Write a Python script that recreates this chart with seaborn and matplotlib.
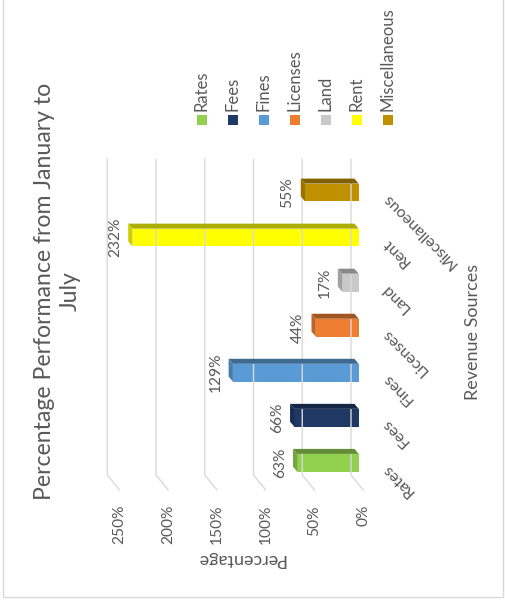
import numpy as np
import pandas as pd
import matplotlib
matplotlib.use("Agg")
import matplotlib.pyplot as plt
import seaborn as sns
from matplotlib.patches import Polygon, Rectangle
from matplotlib.lines import Line2D
from matplotlib.transforms import IdentityTransform
import matplotlib.colors as mcolors

# ---------------- data ----------------
categories = ["Rates", "Fees", "Fines", "Licenses", "Land", "Rent", "Miscellaneous"]
values = [63, 66, 129, 44, 17, 232, 55]
colors = ["#92D050", "#1F3864", "#5B9BD5", "#ED7D31", "#C9C9C9", "#FFFF00", "#BF9000"]
value_ticks = [0, 50, 100, 150, 200, 250]
tick_labels = ["0%", "50%", "100%", "150%", "200%", "250%"]
title = "Percentage Performance from January to\nJuly"
x_title = "Revenue Sources"
y_title = "Percentage"

# ---------------- setup ----------------
W, H = 506, 604
sns.set_theme(style="white")
plt.rcParams["font.family"] = ["Lato", "DejaVu Sans"]
TXT = "#595959"
GRID = "#D9D9D9"
ID = IdentityTransform()

fig = plt.figure(figsize=(W / 100, H / 100), dpi=100)
fig.patch.set_facecolor("white")


def fx(x):
    return x / W


def fy(y):
    return 1 - y / H


def dy(y):  # screen pixel y -> display y
    return H - y


base_px, scale_px = 358.7, 0.975
xl = (265, -15)
axl = base_px - xl[0] * scale_px
axr = base_px - xl[1] * scale_px
row0, step = 192.5, 45.05
top_px, bot_px = 150, 500

ax = fig.add_axes([fx(axl), fy(bot_px), (axr - axl) / W, (bot_px - top_px) / H])
df = pd.DataFrame({"Source": categories, "Percent": values})
order = categories[::-1]
sns.barplot(data=df, x="Percent", y="Source", hue="Source", order=order,
            hue_order=categories, palette=colors, orient="h",
            width=17.8 / step, saturation=1, legend=False, ax=ax, zorder=3,
            linewidth=0)
ax.set_xlim(*xl)
ax.set_ylim((bot_px - row0) / step, (top_px - row0) / step)
ax.axis("off")

# ---------------- gridlines (3D back wall + floor) ----------------
for v in value_ticks:
    xd = ax.transData.transform((v, 0))[0] - 7.7
    fig.add_artist(Line2D([xd, xd, xd + 12.3], [dy(159), dy(475), dy(490)],
                          color=GRID, lw=1.0, transform=ID, zorder=1))

# ---------------- 3D faces + data labels ----------------
ddx, ddy = -4.3, 5.0
for p in ax.patches:
    x0, y0 = p.get_x(), p.get_y()
    w, h = p.get_width(), p.get_height()
    if h == 0:
        continue
    (xa, ya), (xb, yb) = ax.transData.transform([(x0, y0), (x0 + w, y0 + h)])
    xe, xs = min(xa, xb), max(xa, xb)
    yt, ybm = max(ya, yb), min(ya, yb)
    rgb = np.array(mcolors.to_rgb(p.get_facecolor()))
    top = Polygon([(xe, yt), (xs, yt), (xs + ddx, yt + ddy), (xe + ddx, yt + ddy)],
                  closed=True, facecolor=rgb * 0.68, edgecolor="none", transform=ID, zorder=4)
    cap = Polygon([(xe, yt), (xe, ybm), (xe + ddx, ybm + ddy), (xe + ddx, yt + ddy)],
                  closed=True, facecolor=rgb * 0.8, edgecolor="none", transform=ID, zorder=4)
    fig.add_artist(top)
    fig.add_artist(cap)
    fig.text(xe - 17.5, (yt + ybm) / 2, f"{round(w)}%", transform=ID, rotation=90,
             ha="center", va="center", color=TXT, fontsize=11.2)

# ---------------- value axis labels ----------------
for v, lab in zip(value_ticks, tick_labels):
    xd = ax.transData.transform((v, 0))[0] + 4.6
    fig.text(xd, dy(505), lab, transform=ID, rotation=90, rotation_mode="anchor",
             ha="right", va="center", color=TXT, fontsize=11.2)

# ---------------- category labels ----------------
for i, c in enumerate(order):
    yd = ax.transData.transform((0, i))[1]
    fig.text(384, yd - 3, c, transform=ID, rotation=135, rotation_mode="anchor",
             ha="right", va="center", color=TXT, fontsize=11.5)

# ---------------- axis titles ----------------
fig.text(fx(472.7), fy(331.5), x_title, rotation=90, ha="center", va="center",
         color=TXT, fontsize=13)
fig.text(fx(240.5), fy(559), y_title, rotation=180, ha="center", va="center",
         color=TXT, fontsize=13)

# ---------------- chart title ----------------
fig.text(fx(57.5), fy(291.5), title, rotation=90, ha="center", va="center",
         multialignment="center", color=TXT, fontsize=16.6, linespacing=1.3)

# ---------------- legend ----------------
for i, (c, col) in enumerate(zip(categories, colors)):
    cx = 201.7 + 31.05 * i
    fig.add_artist(Rectangle((fx(cx - 5), fy(125)), 10 / W, 10 / H, transform=fig.transFigure,
                             facecolor=col, edgecolor="none"))
    fig.text(fx(cx), fy(110.7), c, rotation=90, rotation_mode="anchor", ha="left",
             va="center", color=TXT, fontsize=12)

# ---------------- border ----------------
fig.add_artist(Line2D([fx(2.7), fx(2.7), fx(503), fx(503)], [fy(-2), fy(596.7), fy(596.7), fy(-2)],
                      color=GRID, lw=1.0, transform=fig.transFigure))

fig.savefig("out.png", dpi=100, facecolor="white")
